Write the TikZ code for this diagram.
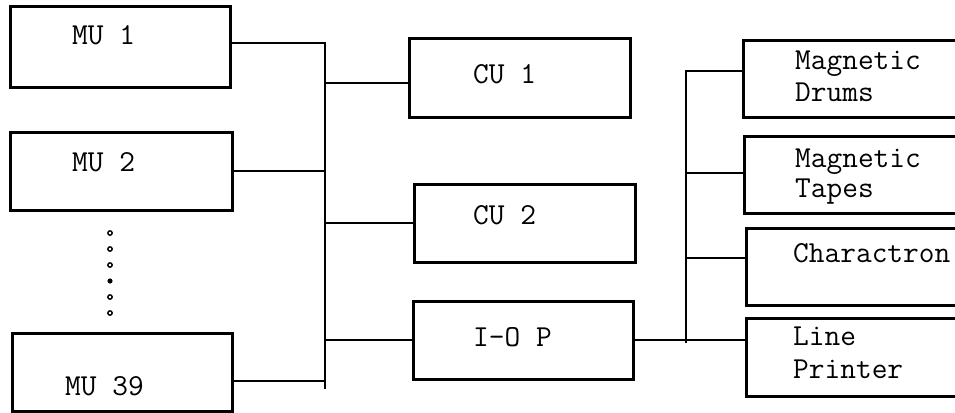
\documentclass[tikz,border=0pt]{standalone}
\usepackage{fontspec}
\begin{document}
\begin{tikzpicture}[x=1pt,y=-1pt,
  unitbox/.style={draw=black,line width=3pt,rectangle,inner sep=0pt,outer sep=0pt},
  lbl/.style={anchor=base west,inner sep=0pt,font=\ttfamily\fontsize{30.5}{32}\selectfont},
  wire/.style={line width=2.5pt,line cap=rect}]
\useasboundingbox (0,0) rectangle (955,412);
\clip (0,0) rectangle (955,412);
% left column
\node[unitbox,minimum width=220,minimum height=80] (mu1) at (120,47) {};
\node[unitbox,minimum width=222,minimum height=78] (mu2) at (121,171) {};
\node[unitbox,minimum width=220,minimum height=78] (mu39) at (122,372) {};
\node[lbl] (tmu1) at (72,45) {MU 1};
\node[lbl] (tmu2) at (72,171) {MU 2};
\node[lbl] (tmu39) at (65,395) {MU 39};
% dots
\foreach \yy in {233,249,265,297,313} \draw[line width=1.4pt] (110,\yy) circle (2.2);
\fill (110,281) circle (2.6);
% middle column
\node[unitbox,minimum width=221,minimum height=78] (cu1) at (519.5,78) {};
\node[unitbox,minimum width=221,minimum height=78] (cu2) at (524.5,223) {};
\node[unitbox,minimum width=220,minimum height=78] (iop) at (523,340) {};
\node[lbl] (tcu1) at (473,83) {CU 1};
\node[lbl] (tcu2) at (473,224) {CU 2};
\node[lbl] (tiop) at (473,346) {I-O P};
% right column
\node[unitbox,minimum width=232,minimum height=76] (drum) at (859,79) {};
\node[unitbox,minimum width=231,minimum height=77] (tape) at (859.5,174.5) {};
\node[unitbox,minimum width=229,minimum height=77] (chr) at (860.5,266.5) {};
\node[unitbox,minimum width=229,minimum height=78] (lp) at (860.5,357) {};
\node[lbl] (tdrum1) at (795,70) {Magnetic};
\node[lbl] (tdrum2) at (795,101) {Drums};
\node[lbl] (ttape1) at (795,167) {Magnetic};
\node[lbl] (ttape2) at (795,197) {Tapes};
\node[lbl] (tchr) at (793,262) {Charactron};
\node[lbl] (tlp1) at (793,345) {Line};
\node[lbl] (tlp2) at (793,378) {Printer};
% buses
\coordinate (lbTop) at (325,43);
\coordinate (lbBot) at (325,388);
\coordinate (rbTop) at (686,71);
\coordinate (rbBot) at (686,342);
\draw[wire] (lbTop) -- (lbBot);
\draw[wire] ([yshift=4]mu1.east) -- ([yshift=4]mu1.east -| lbTop);
\draw[wire] (mu2.east) -- (mu2.east -| lbTop);
\draw[wire] ([yshift=-9]mu39.east) -- ([yshift=-9]mu39.east -| lbTop);
\draw[wire] ([yshift=-5]cu1.west) -- ([yshift=-5]cu1.west -| lbTop);
\draw[wire] (cu2.west) -- (cu2.west -| lbTop);
\draw[wire] (iop.west) -- (iop.west -| lbTop);
\draw[wire] (rbTop) -- (rbBot);
\draw[wire] (iop.east) -- ([yshift=17]lp.west);
\draw[wire] ([yshift=8]drum.west) -- ([yshift=8]drum.west -| rbTop);
\draw[wire] ([yshift=1.5]tape.west) -- ([yshift=1.5]tape.west -| rbTop);
\draw[wire] ([yshift=8.5]chr.west) -- ([yshift=8.5]chr.west -| rbTop);
\end{tikzpicture}
\end{document}
